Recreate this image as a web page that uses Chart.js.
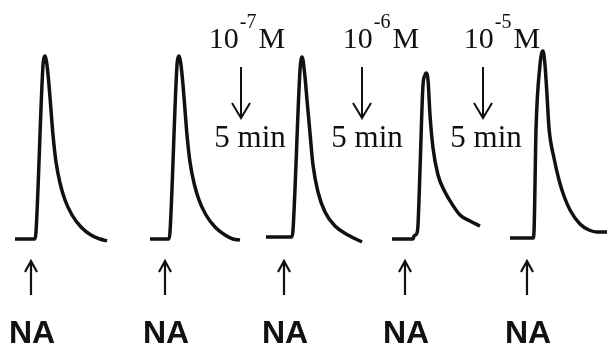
<!DOCTYPE html>
<html>
<head>
<meta charset="utf-8">
<script src="https://cdn.jsdelivr.net/npm/chart.js@4"></script>
<style>
  html, body { margin: 0; padding: 0; background: #fff; }
  #wrap { width: 607px; height: 346px; }
</style>
</head>
<body>
<div id="wrap"><canvas id="traceChart" width="607" height="346"></canvas></div>
<script>
// time axis and response values
const t1 = [15, 35, 36, 43, 44, 45, 46, 47, 49, 51, 53, 56, 60, 65, 72, 81, 91, 100, 107];
const v1 = [1, 1, 8, 175, 182, 184, 181, 175, 155, 130, 105, 78, 57, 40, 25, 13, 5, 1, -1];
const t2 = [150, 169, 170, 177, 178, 179, 180, 181, 183, 185, 187, 190, 194, 199, 206, 215, 225, 233, 240];
const v2 = [1, 1, 8, 175, 182, 184, 181, 175, 155, 130, 105, 78, 57, 40, 25, 13, 5, 1, 0];
const t3 = [266, 292, 293, 300, 301, 302, 303, 305, 307, 310, 313, 318, 325, 335, 348, 362];
const v3 = [3, 3, 10, 170, 180, 183, 180, 163, 140, 107, 75, 48, 28, 14, 5, -2];
const t4 = [392, 413, 414, 417, 418, 420, 423, 425, 426, 428, 430, 433, 438, 445, 452, 460, 470, 480];
const v4 = [1, 1, 4, 7, 15, 70, 155, 165, 167, 160, 125, 92, 65, 48, 36, 25, 19, 14];
const t5 = [510, 533, 534, 536, 540, 542, 543, 545, 547, 549, 554, 559, 564, 570, 580, 589, 597, 607];
const v5 = [2, 2, 8, 110, 175, 188, 189, 175, 145, 112, 82, 60, 44, 30, 16, 10, 8, 8];

// NA additions and pretreatments
const naTimes = [31, 165, 284, 405, 527];
const naLabel = 'NA';
const pretreatTimes = [241, 362, 483];
const concExponents = ['-7', '-6', '-5'];
const pretreatLabel = '5 min';

// layout of the text above the pretreatment arrows (pixel offsets)
const concOffsets = [6, 19, 19];
const timeOffsets = [9, 5, 3];

function toPoints(t, v) {
    return t.map((x, i) => ({ x: x, y: v[i] }));
}

const traces = [[t1, v1], [t2, v2], [t3, v3], [t4, v4], [t5, v5]];

function arrow(ctx, x, yFrom, yTo, head, half) {
    const dir = yTo > yFrom ? 1 : -1;
    ctx.beginPath();
    ctx.moveTo(x, yFrom);
    ctx.lineTo(x, yTo);
    ctx.moveTo(x - half, yTo - dir * head);
    ctx.lineTo(x, yTo);
    ctx.lineTo(x + half, yTo - dir * head);
    ctx.stroke();
}

const annotations = {
    id: 'annotations',
    afterDatasetsDraw(chart) {
        const ctx = chart.ctx;
        const xs = chart.scales.x;
        ctx.save();
        ctx.strokeStyle = '#111';
        ctx.fillStyle = '#111';
        ctx.lineCap = 'butt';

        // NA arrows and labels
        ctx.lineWidth = 2.2;
        naTimes.forEach(t => {
            const x = xs.getPixelForValue(t);
            arrow(ctx, x, 295, 261, 11, 6);
            ctx.font = 'bold 32px "Liberation Sans", Arial, sans-serif';
            ctx.textAlign = 'center';
            ctx.textBaseline = 'alphabetic';
            ctx.fillText(naLabel, x + 1, 343);
        });

        // pretreatment arrows, concentration and time labels
        ctx.lineWidth = 2;
        pretreatTimes.forEach((t, i) => {
            const x = xs.getPixelForValue(t);
            arrow(ctx, x, 67, 118, 15, 9);

            const big = '30px "Liberation Serif", "Times New Roman", serif';
            const small = '20px "Liberation Serif", "Times New Roman", serif';
            ctx.textAlign = 'left';
            ctx.font = big;
            const w10 = ctx.measureText('10').width;
            const wM = ctx.measureText('M').width;
            ctx.font = small;
            const wExp = ctx.measureText(concExponents[i]).width;
            const total = w10 + wExp + 3 + wM;
            let sx = x + concOffsets[i] - total / 2;
            ctx.font = big;
            ctx.fillText('10', sx, 48);
            sx += w10 + 1;
            ctx.font = small;
            ctx.fillText(concExponents[i], sx, 28);
            sx += wExp + 2;
            ctx.font = big;
            ctx.fillText('M', sx, 48);

            ctx.font = '31px "Liberation Serif", "Times New Roman", serif';
            ctx.textAlign = 'center';
            ctx.fillText(pretreatLabel, x + timeOffsets[i], 147);
        });
        ctx.restore();
    }
};

const ctx = document.getElementById('traceChart').getContext('2d');
window.traceChart = new Chart(ctx, {
    type: 'scatter',
    data: {
        datasets: traces.map(([t, v]) => ({
            data: toPoints(t, v),
            showLine: true,
            borderColor: '#111',
            borderWidth: 3.5,
            borderJoinStyle: 'round',
            pointRadius: 0,
            cubicInterpolationMode: 'monotone',
            fill: false
        }))
    },
    options: {
        responsive: false,
        animation: false,
        layout: { padding: 0, autoPadding: false },
        scales: {
            x: { type: 'linear', min: 0, max: 607, display: false },
            y: { type: 'linear', min: -106, max: 240, display: false }
        },
        plugins: {
            legend: { display: false },
            tooltip: { enabled: false }
        }
    },
    plugins: [annotations]
});
</script>
</body>
</html>
